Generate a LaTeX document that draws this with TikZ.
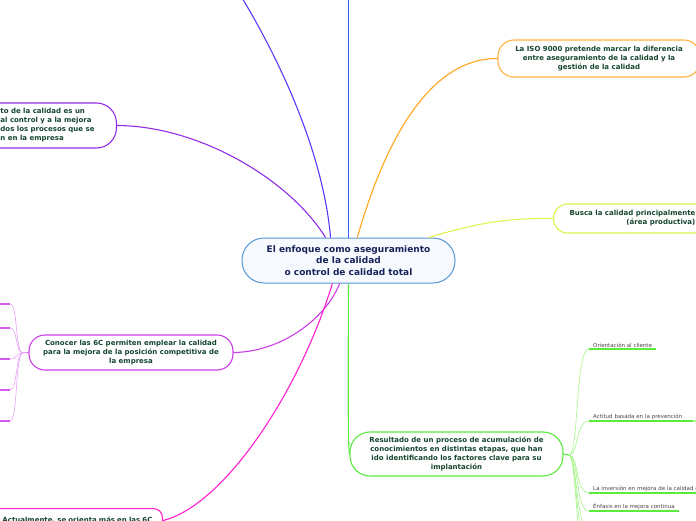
\documentclass[tikz,border=0pt]{standalone}
\usepackage{fontspec}
\setmainfont{DejaVu Sans}
\usepackage{tikz}
\usetikzlibrary{positioning}

\definecolor{centreblue}{RGB}{85,150,215}
\definecolor{centrefill}{RGB}{246,250,255}
\definecolor{centretext}{RGB}{25,35,90}
\definecolor{topictext}{RGB}{20,70,45}
\definecolor{leaftext}{RGB}{70,70,70}
\definecolor{violetline}{RGB}{90,55,255}
\definecolor{blueline}{RGB}{55,100,255}
\definecolor{orangeline}{RGB}{255,165,30}
\definecolor{limeline}{RGB}{222,242,80}
\definecolor{purpleline}{RGB}{145,45,230}
\definecolor{orchidline}{RGB}{205,60,235}
\definecolor{orchidtwig}{RGB}{232,160,245}
\definecolor{magentaline}{RGB}{255,30,210}
\definecolor{greenline}{RGB}{90,235,60}
\definecolor{greentwig}{RGB}{165,245,135}

\begin{document}
\begin{tikzpicture}[x=1pt, y=-1pt,
  centrebox/.style={draw=centreblue, fill=centrefill, line width=1pt, rounded corners=22pt,
    minimum width=213pt, minimum height=45pt, align=center, text=centretext,
    font=\fontsize{9}{11.5}\selectfont\bfseries},
  topic/.style={draw, fill=white, line width=1.1pt, text=topictext, inner xsep=6pt,
    font=\fontsize{7}{9}\selectfont\bfseries},
  leaf/.style={anchor=south west, inner xsep=4pt, inner ysep=1.5pt, text=leaftext,
    font=\fontsize{5.5}{6.5}\selectfont},
  stub/.style={anchor=south east, minimum width=30pt, minimum height=4pt, inner sep=0pt},
  branch/.style={line width=1.1pt},
  twig/.style={line width=0.6pt},
  uline/.style={line width=2pt}
]
\useasboundingbox (0,0) rectangle (696,520);

% main topic and the topics round it
\node[centrebox] (centre) at (348.5,260.5) {El enfoque como aseguramiento\\ de la calidad\\ o control de calidad total};
\node[topic, draw=orangeline!85, rounded corners=16pt, minimum width=202pt, minimum height=37pt, align=center] (iso) at (599,58.5)
  {La ISO 9000 pretende marcar la diferencia\\ entre aseguramiento de la calidad y la\\ gestión de la calidad};
\node[topic, draw=limeline, rounded corners=14pt, minimum height=29pt, inner xsep=16pt, anchor=west, align=right] (busca) at (553,218.5)
  {Busca la calidad principalmente\\ (área productiva)};
\node[topic, draw=purpleline, rounded corners=20pt, minimum height=45pt, inner xsep=11pt, anchor=east] (basis) at (117,125.5)
  {\hspace*{120pt}\parbox{105pt}{\raggedright to de la calidad es un\\ al control y a la mejora\\ dos los procesos que se\\ n en la empresa}};
\node[topic, draw=orchidline, rounded corners=16pt, minimum width=204pt, minimum height=35pt, align=center] (sixc) at (131,352.5)
  {Conocer las 6C permiten emplear la calidad\\ para la mejora de la posición competitiva de\\ la empresa};
\node[topic, draw=greenline, rounded corners=20pt, minimum width=213pt, minimum height=44pt, align=center] (result) at (456.5,454)
  {Resultado de un proceso de acumulación de\\ conocimientos en distintas etapas, que han\\ ido identificando los factores clave para su\\ implantación};
\node[topic, draw=magentaline, rounded corners=9pt, minimum height=24pt, inner xsep=10pt, anchor=north east] (now) at (163,508)
  {\hspace*{120pt}\parbox{150pt}{Actualmente, se orienta más en las 6C}};

% ends of branches that leave the page
\coordinate (topleft) at (231,-20);
\coordinate (topmid) at (348.5,-10);

% branches from the main topic
\draw[branch, violetline] (centre.128) .. controls (324,160) and (285,65) .. (topleft);
\draw[branch, blueline] (centre.north) -- (topmid);
\draw[branch, orangeline] (centre.69) .. controls (385,140) and (430,58) .. (iso.west);
\draw[branch, limeline] (centre.16) .. controls (480,222) and (510,218) .. (busca.west);
\draw[branch, purpleline] (centre.135) .. controls (290,180) and (200,126) .. (basis.east);
\draw[branch, orchidline] (centre.249) .. controls (325,320) and (280,352) .. (sixc.east);
\draw[branch, magentaline] (centre.235) .. controls (300,390) and (225,505) .. (now.east);
\draw[branch, greenline] (centre.south) .. controls (348,400) and (348,445) .. (result.west);

% subtopics of the 6C topic
\coordinate (sfan) at (23,353);
\draw[twig, orchidline] (sixc.west) -- (sfan);
\node[stub] (c1) at (10,304) {};
\node[stub] (c2) at (10,328) {};
\node[stub] (c3) at (10,359) {};
\node[stub] (c4) at (10,390) {};
\node[stub] (c5) at (10,421) {};
\draw[uline, orchidline!85] (c1.south west) -- (c1.south east);
\draw[uline, orchidline!85] (c2.south west) -- (c2.south east);
\draw[uline, orchidline!85] (c3.south west) -- (c3.south east);
\draw[uline, orchidline!85] (c4.south west) -- (c4.south east);
\draw[uline, orchidline!85] (c5.south west) -- (c5.south east);
\draw[twig, orchidtwig] (sfan) .. controls +(-8,0) and +(8,0) .. (c1.south east);
\draw[twig, orchidtwig] (sfan) .. controls +(-8,0) and +(8,0) .. (c2.south east);
\draw[twig, orchidtwig] (sfan) .. controls +(-8,0) and +(8,0) .. (c3.south east);
\draw[twig, orchidtwig] (sfan) .. controls +(-8,0) and +(8,0) .. (c4.south east);
\draw[twig, orchidtwig] (sfan) .. controls +(-8,0) and +(8,0) .. (c5.south east);

% subtopics of the green topic
\coordinate (rfan) at (569,455);
\draw[branch, greenline] (result.east) -- (rfan);
\node[leaf] (o1) at (589,349) {Orientación al cliente};
\node[leaf, text width=96pt, align=left] (o2) at (589,421) {Actitud basada en la prevención};
\node[leaf, text width=106pt, align=left] (o3) at (589,493) {La inversión en mejora de la calidad e};
\node[leaf] (o4) at (589,511) {Énfasis en la mejora continua};
\coordinate (d1) at (590,532);
\coordinate (d2) at (590,552);
\coordinate (d3) at (590,575);
\draw[uline, greenline] (o1.south west) -- (o1.south east);
\draw[uline, greenline] (o2.south west) -- (o2.south east);
\draw[uline, greenline] (o3.south west) -- (o3.south east);
\draw[uline, greenline] (o4.south west) -- (o4.south east);
\draw[twig, greentwig] (rfan) .. controls +(10,0) and +(-14,0) .. (o1.south west);
\draw[twig, greentwig] (rfan) .. controls +(10,0) and +(-14,0) .. (o2.south west);
\draw[twig, greentwig] (rfan) .. controls +(10,0) and +(-14,0) .. (o3.south west);
\draw[twig, greentwig] (rfan) .. controls +(10,0) and +(-14,0) .. (o4.south west);
\draw[twig, greentwig] (rfan) .. controls +(8,0) and +(-14,0) .. (d1);
\draw[twig, greentwig] (rfan) .. controls +(8,0) and +(-14,0) .. (d2);
\draw[twig, greentwig] (rfan) .. controls +(8,0) and +(-14,0) .. (d3);

% the prevention subtopic goes on to the right
\coordinate (a1) at (725,392);
\coordinate (a2) at (725,410);
\coordinate (a3) at (725,434);
\coordinate (a4) at (725,452);
\draw[twig, greentwig] (o2.south east) .. controls +(6,0) and +(-10,0) .. (a1);
\draw[twig, greentwig] (o2.south east) .. controls +(6,0) and +(-10,0) .. (a2);
\draw[twig, greentwig] (o2.south east) .. controls +(6,0) and +(-10,0) .. (a3);
\draw[twig, greentwig] (o2.south east) .. controls +(6,0) and +(-10,0) .. (a4);
\end{tikzpicture}
\end{document}
